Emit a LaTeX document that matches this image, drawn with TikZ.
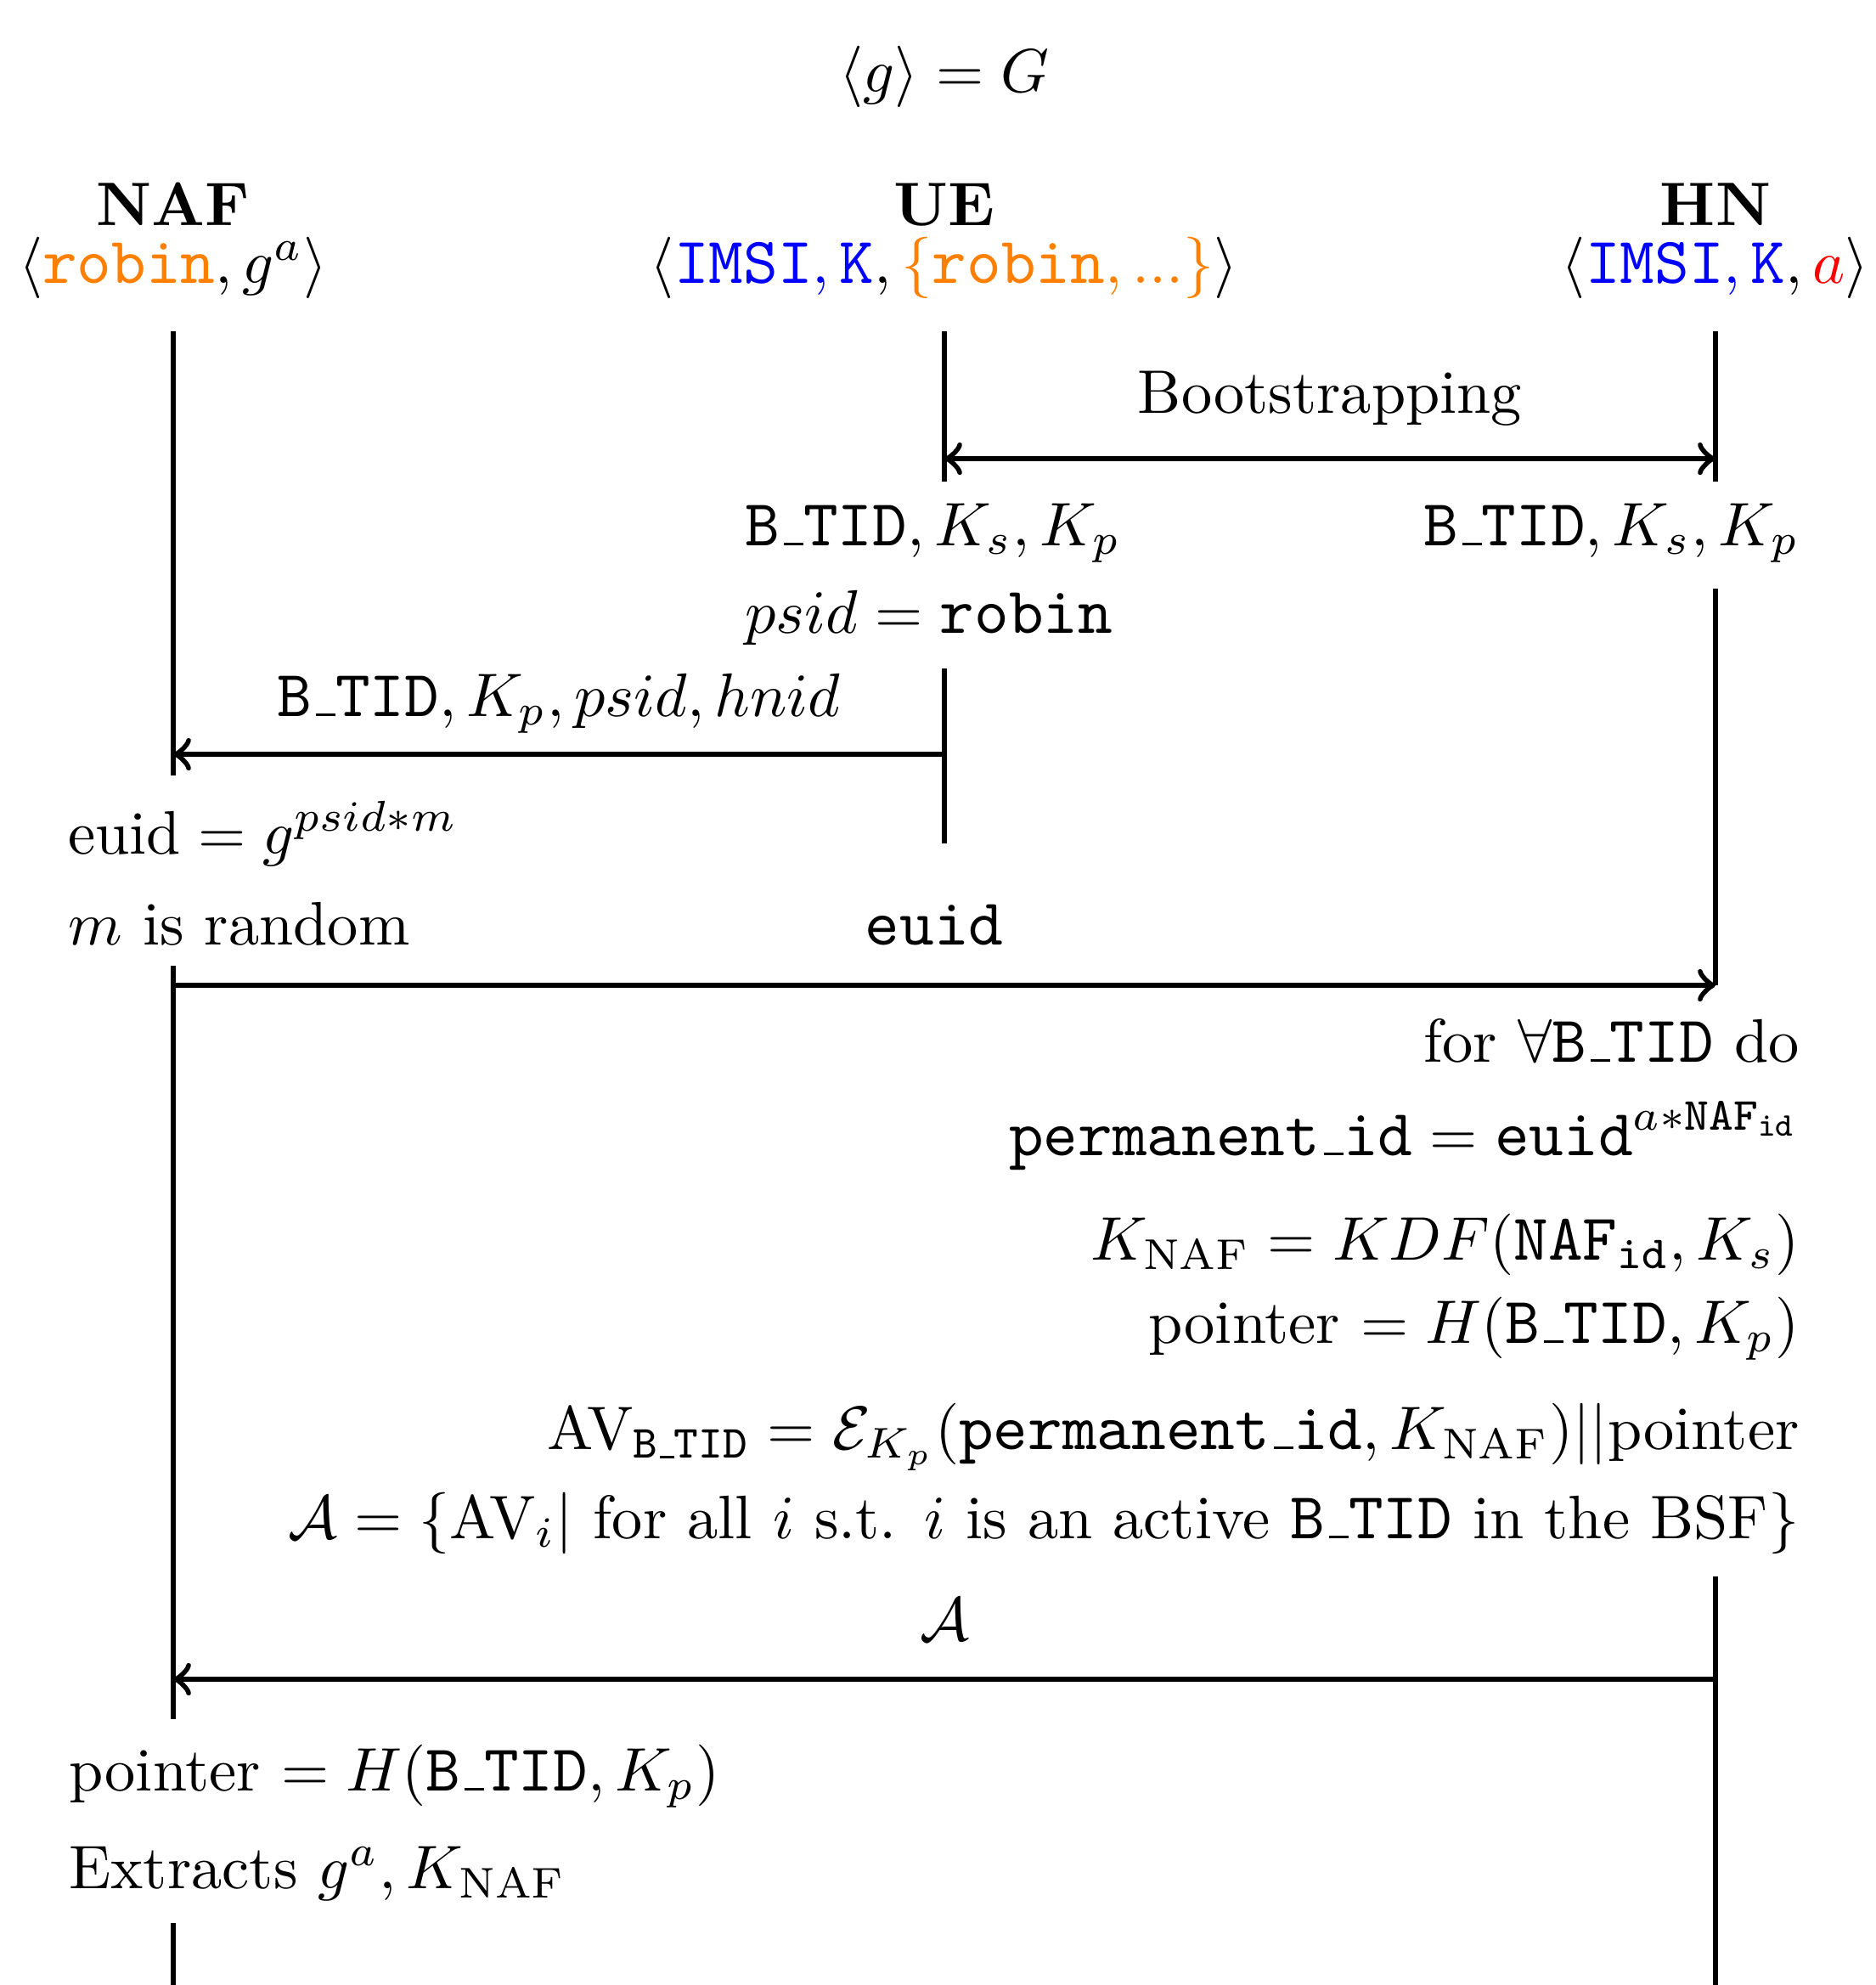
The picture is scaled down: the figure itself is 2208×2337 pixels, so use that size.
\documentclass[tikz,border=0pt]{standalone}
\usepackage{amsmath,amssymb}
\usepackage{fontspec}
\setmonofont{Latin Modern Mono}[Scale=1.07]
\usepackage{xcolor}
\newcommand\us{\leavevmode\kern.06em\vbox{\hrule width.3em}}
\newcommand\btid{\texttt{B\us TID}}
\tikzset{
  life/.style={line width=0.95pt},
  msg/.style={line width=0.95pt,->},
  bmsg/.style={line width=0.95pt,<->},
  txt/.style={inner sep=0pt,anchor=base},
  txtw/.style={inner sep=0pt,anchor=base west},
  txte/.style={inner sep=0pt,anchor=base east}
}
\begin{document}
\begin{tikzpicture}[x=0.13812pt,y=-0.13812pt]
\useasboundingbox (0,0) rectangle (2208,2337);
% header
\node[txt] (grp) at (1112,108) {$\langle g\rangle = G$};
\node[txt] (nafh) at (204,265) {\textbf{NAF}};
\node[txt] (ueh) at (1112,265) {\textbf{UE}};
\node[txt] (hnh) at (2020,265) {\textbf{HN}};
\node[txt] (naft) at (204,333) {$\langle\textcolor{orange}{\texttt{robin}}, g^a\rangle$};
\node[txt] (uet) at (1112,333) {$\langle \textcolor{blue}{\texttt{IMSI}, \texttt{K}}, \textcolor{orange}{\{\texttt{robin}, ...\}}\rangle$};
\node[txt] (hnt) at (2020,333) {$\langle \textcolor{blue}{\texttt{IMSI}, \texttt{K}}, \textcolor{red}{a}\rangle$};
% lifeline coordinates
\coordinate (n0) at (204,390);   \coordinate (n1) at (204,913);
\coordinate (n2) at (204,1137);  \coordinate (n3) at (204,2024);
\coordinate (n4) at (204,2264);  \coordinate (n5) at (204,2337);
\coordinate (u0) at (1112,390);  \coordinate (u1) at (1112,567);
\coordinate (u2) at (1112,787);  \coordinate (u3) at (1112,993);
\coordinate (h0) at (2020,390);  \coordinate (h1) at (2020,567);
\coordinate (h2) at (2020,693);  \coordinate (h3) at (2020,1160);
\coordinate (h4) at (2020,1856); \coordinate (h5) at (2020,2337);
\draw[life] (n0) -- (n1) (n2) -- (n3) (n4) -- (n5);
\draw[life] (u0) -- (u1) (u2) -- (u3);
\draw[life] (h0) -- (h1) (h2) -- (h3) (h4) -- (h5);
% message end points
\coordinate (bsU) at (1112,540); \coordinate (bsH) at (2020,540);
\coordinate (m2U) at (1112,888); \coordinate (m2N) at (204,888);
\coordinate (m3N) at (204,1160); \coordinate (m3H) at (2020,1160);
\coordinate (m4H) at (2020,1977); \coordinate (m4N) at (204,1977);
% bootstrapping
\node[txt] (boot) at (1566,486) {Bootstrapping};
\draw[bmsg] (bsU) -- (bsH);
\node[txtw] (ue1) at (876,642) {$\btid, K_s, K_p$};
\node[txtw] (ue2) at (876,745) {$psid = \texttt{robin}$};
\node[txte] (hn1) at (2120,642) {$\btid, K_s, K_p$};
% message 2
\node[txt] (l2) at (658,843) {$\btid, K_p, psid, hnid$};
\draw[msg] (m2U) -- (m2N);
\node[txtw] (na1) at (79,1005) {$\text{euid} = g^{psid*m}$};
\node[txtw] (na2) at (79,1112) {$m$ is random};
% message 3
\node[txt] (l3) at (1100,1112) {\texttt{euid}};
\draw[msg] (m3N) -- (m3H);
% HN computations
\node[txte] (c1) at (2120,1250) {for $\forall\btid$ do};
\node[txte] (c2) at (2120,1360) {$\texttt{permanent\us id} = \texttt{euid}^{a*\texttt{NAF}_{\texttt{id}}}$};
\node[txte] (c3) at (2120,1483) {$K_{\text{NAF}} = KDF(\texttt{NAF}_{\texttt{id}}, K_s)$};
\node[txte] (c4) at (2120,1581) {pointer $= H(\btid, K_p)$};
\node[txte] (c5) at (2120,1706) {$\text{AV}_{\btid} = \mathcal{E}_{K_p}(\texttt{permanent\us id}, K_{\text{NAF}})||\text{pointer}$};
\node[txte] (c6) at (2120,1811) {$\mathcal{A} = \{\text{AV}_i|\text{ for all } i \text{ s.t. } i \text{ is an active } \btid \text{ in the BSF}\}$};
% message 4
\node[txt] (l4) at (1112,1931) {$\mathcal{A}$};
\draw[msg] (m4H) -- (m4N);
\node[txtw] (nb1) at (80,2108) {pointer $= H(\btid, K_p)$};
\node[txtw] (nb2) at (80,2223) {Extracts $g^a, K_{\text{NAF}}$};
\end{tikzpicture}
\end{document}
